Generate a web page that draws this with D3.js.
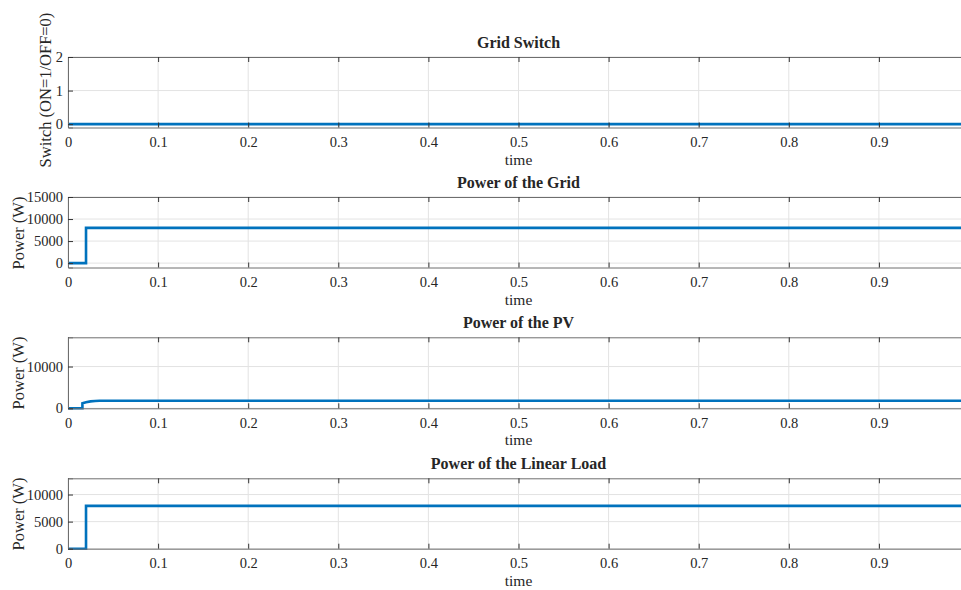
<!DOCTYPE html>
<html>
<head>
<meta charset="utf-8">
<script src="https://cdn.jsdelivr.net/npm/d3@7"></script>
<style>
  html, body { margin: 0; padding: 0; background: #fff; }
  svg { display: block; }
  text { font-family: "Liberation Serif", "Times New Roman", serif; fill: #262626; }
</style>
</head>
<body>
<svg id="chart" width="961" height="590"></svg>
<script>
// ---- data ----
const xTicks = [0, 0.1, 0.2, 0.3, 0.4, 0.5, 0.6, 0.7, 0.8, 0.9];
const xTickLabels = ["0", "0.1", "0.2", "0.3", "0.4", "0.5", "0.6", "0.7", "0.8", "0.9"];

const switchT = [0, 1];
const switchV = [0, 0];

const gridT = [0, 0.02, 0.02, 1];
const gridV = [0, 0, 8000, 8000];

const pvT = [0, 0.016, 0.016, 0.02, 0.025, 0.03, 0.035, 1];
const pvV = [0, 0, 1200, 1450, 1650, 1750, 1800, 1800];

const loadT = [0, 0.02, 0.02, 1];
const loadV = [0, 0, 7900, 7900];

const titles = ["Grid Switch", "Power of the Grid", "Power of the PV", "Power of the Linear Load"];
const yLabels = ["Switch (ON=1/OFF=0)", "Power (W)", "Power (W)", "Power (W)"];
const yTicks1 = [0, 1, 2];
const yTicks2 = [0, 5000, 10000, 15000];
const yTicks3 = [0, 10000];
const yTicks4 = [0, 5000, 10000];
const yDomains = [[-0.1, 2], [-1000, 15000], [0, 17000], [0, 13000]];
const xLabel = "time";

// ---- layout ----
const svg = d3.select("#chart");
const left = 68, right = 969;
const panels = [
  { top: 57,    bottom: 127.5, t: switchT, v: switchV, yt: yTicks1, ylx: 51, ycy: 90 },
  { top: 197,   bottom: 267.5, t: gridT,   v: gridV,   yt: yTicks2, ylx: 24, ycy: 233 },
  { top: 337.3, bottom: 408.3, t: pvT,     v: pvV,     yt: yTicks3, ylx: 24, ycy: 373 },
  { top: 478.3, bottom: 548.7, t: loadT,   v: loadV,   yt: yTicks4, ylx: 24, ycy: 514 }
];

const x = d3.scaleLinear().domain([0, 1]).range([left, right]);

panels.forEach((p, i) => {
  const y = d3.scaleLinear().domain(yDomains[i]).range([p.bottom, p.top]);
  const g = svg.append("g");

  // grid lines
  g.append("g").selectAll("line").data(xTicks).join("line")
    .attr("x1", d => x(d)).attr("x2", d => x(d))
    .attr("y1", p.top).attr("y2", p.bottom)
    .attr("stroke", "#e3e3e3").attr("stroke-width", 1);
  g.append("g").selectAll("line").data(p.yt).join("line")
    .attr("x1", left).attr("x2", right)
    .attr("y1", d => y(d)).attr("y2", d => y(d))
    .attr("stroke", "#e3e3e3").attr("stroke-width", 1);

  // data line
  const line = d3.line().x(d => x(d[0])).y(d => y(d[1]));
  const pts = p.t.map((t, k) => [t, p.v[k]]);
  g.append("path").datum(pts)
    .attr("d", line)
    .attr("fill", "none")
    .attr("stroke", "#0072BD")
    .attr("stroke-width", 2.6)
    .attr("stroke-linejoin", "miter");

  // axes (inward ticks, box)
  const xb = d3.axisBottom(x).tickValues(xTicks).tickSize(-5).tickPadding(9)
    .tickFormat((d, k) => xTickLabels[k]);
  const xt = d3.axisTop(x).tickValues(xTicks).tickSize(-5).tickFormat("");
  const yl = d3.axisLeft(y).tickValues(p.yt).tickSize(-5).tickPadding(5)
    .tickFormat(d => String(d));
  const yr = d3.axisRight(y).tickValues(p.yt).tickSize(-5).tickFormat("");

  const gx = g.append("g").attr("transform", `translate(0,${p.bottom})`).call(xb);
  const gxt = g.append("g").attr("transform", `translate(0,${p.top})`).call(xt);
  const gy = g.append("g").attr("transform", `translate(${left},0)`).call(yl);
  const gyr = g.append("g").attr("transform", `translate(${right},0)`).call(yr);
  [gx, gxt, gy, gyr].forEach(a => {
    a.select(".domain").attr("stroke", "#6e6e6e").attr("stroke-width", 1);
    a.selectAll(".tick line").attr("stroke", "#333");
    a.selectAll("text").attr("font-family", "Liberation Serif, serif")
      .attr("font-size", 14.5).attr("fill", "#262626");
  });

  // title
  g.append("text")
    .attr("x", (left + right) / 2).attr("y", p.top - 9)
    .attr("text-anchor", "middle")
    .attr("font-size", 16).attr("font-weight", "bold")
    .attr("fill", "#000")
    .text(titles[i]);

  // x label
  g.append("text")
    .attr("x", (left + right) / 2).attr("y", p.bottom + 37)
    .attr("text-anchor", "middle")
    .attr("font-size", 15.5)
    .text(xLabel);

  // y label
  g.append("text")
    .attr("transform", `translate(${p.ylx},${p.ycy}) rotate(-90)`)
    .attr("text-anchor", "middle")
    .attr("font-size", 16.5)
    .text(yLabels[i]);
});
</script>
</body>
</html>
